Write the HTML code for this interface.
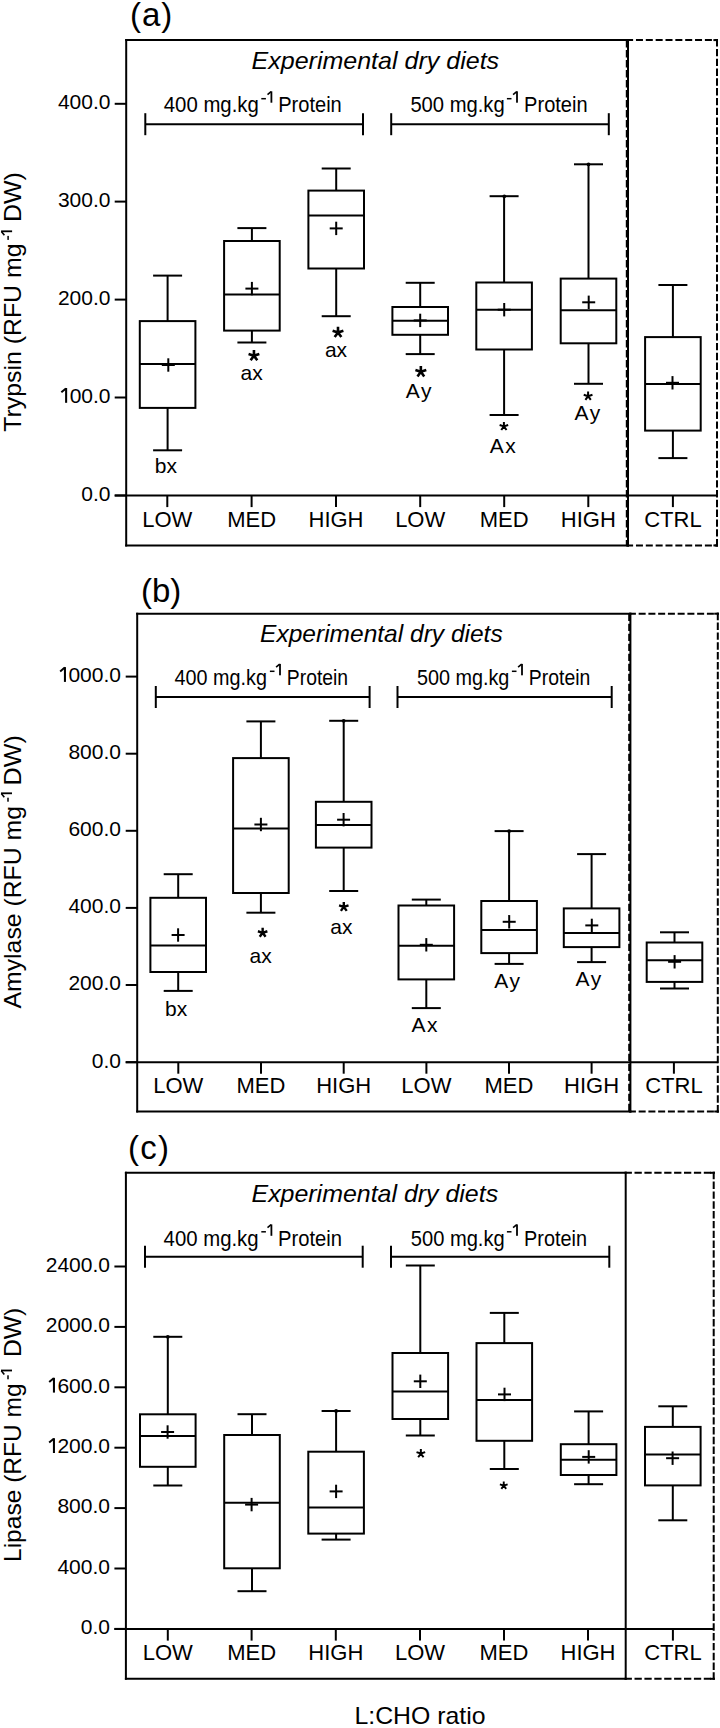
<!DOCTYPE html>
<html><head><meta charset="utf-8"><title>Digestive enzyme activity box plots</title>
<style>
html,body{margin:0;padding:0;background:#fff;}
body{width:720px;height:1728px;overflow:hidden;}
svg{display:block;}
text{font-family:"Liberation Sans",sans-serif;fill:#000;stroke:none;}
</style></head>
<body>
<svg width="720" height="1728" viewBox="0 0 720 1728">
<rect width="720" height="1728" fill="#fff"/>
<g stroke="#000" fill="none" stroke-linecap="butt">
<line x1="126.2" y1="39.1" x2="126.2" y2="546.4" stroke-width="2"/>
<line x1="125.2" y1="40.1" x2="629" y2="40.1" stroke-width="2"/>
<line x1="125.2" y1="545.4" x2="629" y2="545.4" stroke-width="2"/>
<line x1="628" y1="39.1" x2="628" y2="546.4" stroke-width="2"/>
<line x1="626.8" y1="40.1" x2="626.8" y2="545.4" stroke-width="2" stroke-dasharray="7.4 2.6"/>
<line x1="626.1" y1="40.1" x2="718" y2="40.1" stroke-width="2" stroke-dasharray="7 2.85"/>
<line x1="626.1" y1="545.4" x2="718" y2="545.4" stroke-width="2" stroke-dasharray="7 2.85"/>
<line x1="717" y1="39.1" x2="717" y2="546.4" stroke-width="2" stroke-dasharray="7.402 2.4"/>
<line x1="713.4" y1="40.1" x2="718" y2="40.1" stroke-width="2"/>
<line x1="713.4" y1="545.4" x2="718" y2="545.4" stroke-width="2"/>
<line x1="114.7" y1="495.6" x2="717" y2="495.6" stroke-width="2"/>
<line x1="114.7" y1="103.8" x2="126.2" y2="103.8" stroke-width="2"/>
<text x="110.5" y="109.1" font-size="21" text-anchor="end">400.0</text>
<line x1="114.7" y1="201.6" x2="126.2" y2="201.6" stroke-width="2"/>
<text x="110.5" y="206.9" font-size="21" text-anchor="end">300.0</text>
<line x1="114.7" y1="299.6" x2="126.2" y2="299.6" stroke-width="2"/>
<text x="110.5" y="304.90000000000003" font-size="21" text-anchor="end">200.0</text>
<line x1="114.7" y1="397.5" x2="126.2" y2="397.5" stroke-width="2"/>
<text x="110.5" y="402.8" font-size="21" text-anchor="end">00.0</text>
<g transform="translate(57.95,402.80)" fill="#000" stroke="none"><rect x="7.15" y="-14.8" width="2.05" height="14.8"/><path d="M8.0 -14.3L3.4 -10.5" stroke="#000" stroke-width="2" fill="none"/></g>
<line x1="114.7" y1="495.5" x2="126.2" y2="495.5" stroke-width="2"/>
<text x="110.5" y="500.8" font-size="21" text-anchor="end">0.0</text>
<line x1="167.3" y1="495.6" x2="167.3" y2="507.1" stroke-width="2"/>
<text x="167.3" y="527.3" font-size="22" text-anchor="middle">LOW</text>
<line x1="251.6" y1="495.6" x2="251.6" y2="507.1" stroke-width="2"/>
<text x="251.6" y="527.3" font-size="22" text-anchor="middle">MED</text>
<line x1="336" y1="495.6" x2="336" y2="507.1" stroke-width="2"/>
<text x="336" y="527.3" font-size="22" text-anchor="middle">HIGH</text>
<line x1="420.2" y1="495.6" x2="420.2" y2="507.1" stroke-width="2"/>
<text x="420.2" y="527.3" font-size="22" text-anchor="middle">LOW</text>
<line x1="504.2" y1="495.6" x2="504.2" y2="507.1" stroke-width="2"/>
<text x="504.2" y="527.3" font-size="22" text-anchor="middle">MED</text>
<line x1="588.3" y1="495.6" x2="588.3" y2="507.1" stroke-width="2"/>
<text x="588.3" y="527.3" font-size="22" text-anchor="middle">HIGH</text>
<line x1="672.9" y1="495.6" x2="672.9" y2="507.1" stroke-width="2"/>
<text x="672.9" y="527.3" font-size="22" text-anchor="middle">CTRL</text>
<text x="130" y="25.8" font-size="33" letter-spacing="0.9">(a)</text>
<text x="251.5" y="69" font-size="24" font-style="italic" textLength="247.60000000000002" lengthAdjust="spacingAndGlyphs">Experimental dry diets</text>
<line x1="145.3" y1="124.2" x2="363" y2="124.2" stroke-width="2"/>
<line x1="145.3" y1="113.2" x2="145.3" y2="135.2" stroke-width="2"/>
<line x1="363" y1="113.2" x2="363" y2="135.2" stroke-width="2"/>
<line x1="391.2" y1="124.2" x2="608.8" y2="124.2" stroke-width="2"/>
<line x1="391.2" y1="113.2" x2="391.2" y2="135.2" stroke-width="2"/>
<line x1="608.8" y1="113.2" x2="608.8" y2="135.2" stroke-width="2"/>
<text x="163.79999999999998" y="112.4" font-size="21.5" textLength="95.0" lengthAdjust="spacingAndGlyphs">400 mg.kg</text>
<g transform="translate(261.3,102.7)" fill="#000" stroke="none"><rect x="0" y="-4.75" width="4.6" height="1.5"/><rect x="9.20" y="-11.40" width="1.8" height="11.40"/><path d="M9.80 -11.10L6.20 -8.10" stroke="#000" stroke-width="1.6" fill="none"/></g>
<text x="278.2" y="112.4" font-size="21.5" textLength="63.60000000000002" lengthAdjust="spacingAndGlyphs">Protein</text>
<text x="410.40000000000003" y="112.4" font-size="21.5" textLength="94.3" lengthAdjust="spacingAndGlyphs">500 mg.kg</text>
<g transform="translate(506.9,102.7)" fill="#000" stroke="none"><rect x="0" y="-4.75" width="4.6" height="1.5"/><rect x="9.20" y="-11.40" width="1.8" height="11.40"/><path d="M9.80 -11.10L6.20 -8.10" stroke="#000" stroke-width="1.6" fill="none"/></g>
<text x="524.1" y="112.4" font-size="21.5" textLength="63.5" lengthAdjust="spacingAndGlyphs">Protein</text>
<text transform="translate(21,431.8) rotate(-90)" font-size="24" textLength="188.3" lengthAdjust="spacingAndGlyphs">Trypsin (RFU mg</text>
<g transform="translate(12.1,239.9) rotate(-90)" fill="#000" stroke="none"><rect x="0" y="-4.75" width="4.0" height="1.5"/><rect x="7.70" y="-11.00" width="1.8" height="11.00"/><path d="M8.30 -10.70L4.70 -7.70" stroke="#000" stroke-width="1.6" fill="none"/></g>
<text transform="translate(21,222.1) rotate(-90)" font-size="24" textLength="50.0" lengthAdjust="spacingAndGlyphs">DW)</text>
<line x1="167.6" y1="275.6" x2="167.6" y2="321.1" stroke-width="2"/>
<line x1="167.6" y1="407.9" x2="167.6" y2="450.3" stroke-width="2"/>
<line x1="153.1" y1="275.6" x2="182.1" y2="275.6" stroke-width="2"/>
<line x1="153.1" y1="450.3" x2="182.1" y2="450.3" stroke-width="2"/>
<rect x="139.79999999999998" y="321.1" width="55.6" height="86.79999999999995" fill="none" stroke-width="2"/>
<line x1="139.79999999999998" y1="363.9" x2="195.4" y2="363.9" stroke-width="2"/>
<line x1="161.8" y1="365" x2="174.8" y2="365" stroke-width="2"/>
<line x1="168.3" y1="358.3" x2="168.3" y2="371.7" stroke-width="2"/>
<line x1="251.9" y1="228.1" x2="251.9" y2="241.0" stroke-width="2"/>
<line x1="251.9" y1="330.6" x2="251.9" y2="342.5" stroke-width="2"/>
<line x1="237.4" y1="228.1" x2="266.4" y2="228.1" stroke-width="2"/>
<line x1="237.4" y1="342.5" x2="266.4" y2="342.5" stroke-width="2"/>
<rect x="224.1" y="241.0" width="55.6" height="89.60000000000002" fill="none" stroke-width="2"/>
<line x1="224.1" y1="294.4" x2="279.7" y2="294.4" stroke-width="2"/>
<line x1="245.4" y1="288.6" x2="258.4" y2="288.6" stroke-width="2"/>
<line x1="251.9" y1="281.90000000000003" x2="251.9" y2="295.3" stroke-width="2"/>
<line x1="336.2" y1="168.5" x2="336.2" y2="190.6" stroke-width="2"/>
<line x1="336.2" y1="268.5" x2="336.2" y2="316.2" stroke-width="2"/>
<line x1="321.7" y1="168.5" x2="350.7" y2="168.5" stroke-width="2"/>
<line x1="321.7" y1="316.2" x2="350.7" y2="316.2" stroke-width="2"/>
<rect x="308.4" y="190.6" width="55.6" height="77.9" fill="none" stroke-width="2"/>
<line x1="308.4" y1="215.6" x2="364.0" y2="215.6" stroke-width="2"/>
<line x1="329.7" y1="228.4" x2="342.7" y2="228.4" stroke-width="2"/>
<line x1="336.2" y1="221.70000000000002" x2="336.2" y2="235.1" stroke-width="2"/>
<line x1="420.2" y1="282.8" x2="420.2" y2="307.0" stroke-width="2"/>
<line x1="420.2" y1="334.8" x2="420.2" y2="354.1" stroke-width="2"/>
<line x1="405.7" y1="282.8" x2="434.7" y2="282.8" stroke-width="2"/>
<line x1="405.7" y1="354.1" x2="434.7" y2="354.1" stroke-width="2"/>
<rect x="392.4" y="307.0" width="55.6" height="27.80000000000001" fill="none" stroke-width="2"/>
<line x1="392.4" y1="320.8" x2="448.0" y2="320.8" stroke-width="2"/>
<line x1="413.7" y1="320.4" x2="426.7" y2="320.4" stroke-width="2"/>
<line x1="420.2" y1="313.7" x2="420.2" y2="327.09999999999997" stroke-width="2"/>
<line x1="504.1" y1="196.2" x2="504.1" y2="282.5" stroke-width="2"/>
<line x1="504.1" y1="349.5" x2="504.1" y2="415.0" stroke-width="2"/>
<line x1="489.6" y1="196.2" x2="518.6" y2="196.2" stroke-width="2"/>
<line x1="489.6" y1="415.0" x2="518.6" y2="415.0" stroke-width="2"/>
<rect x="476.3" y="282.5" width="55.6" height="67.0" fill="none" stroke-width="2"/>
<line x1="476.3" y1="309.7" x2="531.9" y2="309.7" stroke-width="2"/>
<line x1="497.7" y1="309.7" x2="510.7" y2="309.7" stroke-width="2"/>
<line x1="504.2" y1="303.0" x2="504.2" y2="316.4" stroke-width="2"/>
<line x1="588.5" y1="164.3" x2="588.5" y2="278.6" stroke-width="2"/>
<line x1="588.5" y1="343.3" x2="588.5" y2="383.8" stroke-width="2"/>
<line x1="574.0" y1="164.3" x2="603.0" y2="164.3" stroke-width="2"/>
<line x1="574.0" y1="383.8" x2="603.0" y2="383.8" stroke-width="2"/>
<rect x="560.7" y="278.6" width="55.6" height="64.69999999999999" fill="none" stroke-width="2"/>
<line x1="560.7" y1="310.2" x2="616.3" y2="310.2" stroke-width="2"/>
<line x1="582.2" y1="302.3" x2="595.2" y2="302.3" stroke-width="2"/>
<line x1="588.7" y1="295.6" x2="588.7" y2="309.0" stroke-width="2"/>
<line x1="672.9" y1="285.0" x2="672.9" y2="337.1" stroke-width="2"/>
<line x1="672.9" y1="430.6" x2="672.9" y2="458.1" stroke-width="2"/>
<line x1="658.4" y1="285.0" x2="687.4" y2="285.0" stroke-width="2"/>
<line x1="658.4" y1="458.1" x2="687.4" y2="458.1" stroke-width="2"/>
<rect x="645.1" y="337.1" width="55.6" height="93.5" fill="none" stroke-width="2"/>
<line x1="645.1" y1="384.0" x2="700.6999999999999" y2="384.0" stroke-width="2"/>
<line x1="666.0" y1="382.8" x2="679.0" y2="382.8" stroke-width="2"/>
<line x1="672.5" y1="376.1" x2="672.5" y2="389.5" stroke-width="2"/>
<path d="M253.95 355.66L253.95 350.00M253.95 355.66L259.34 353.91M253.95 355.66L257.28 360.25M253.95 355.66L250.62 360.25M253.95 355.66L248.56 353.91" stroke-width="2.6"/>
<path d="M338.00 332.46L338.00 326.80M338.00 332.46L343.39 330.71M338.00 332.46L341.33 337.05M338.00 332.46L334.67 337.05M338.00 332.46L332.61 330.71" stroke-width="2.6"/>
<path d="M420.85 371.82L420.85 366.10M420.85 371.82L426.29 370.05M420.85 371.82L424.21 376.45M420.85 371.82L417.49 376.45M420.85 371.82L415.41 370.05" stroke-width="2.6"/>
<path d="M503.90 426.39L503.90 421.90M503.90 426.39L508.17 425.00M503.90 426.39L506.54 430.02M503.90 426.39L501.26 430.02M503.90 426.39L499.63 425.00" stroke-width="2.0"/>
<path d="M588.10 396.20L588.10 391.60M588.10 396.20L592.47 394.78M588.10 396.20L590.80 399.92M588.10 396.20L585.40 399.92M588.10 396.20L583.73 394.78" stroke-width="2.0"/>
<circle cx="504.3" cy="196.3" r="1.9" fill="#000" stroke="none"/>
<circle cx="588.5" cy="164.3" r="1.9" fill="#000" stroke="none"/>
<text x="165.8" y="472.5" font-size="21" text-anchor="middle">bx</text>
<text x="251.7" y="380.3" font-size="21" text-anchor="middle">ax</text>
<text x="336" y="357.1" font-size="21" text-anchor="middle">ax</text>
<text x="419.40000000000003" y="398.3" font-size="21" text-anchor="middle" letter-spacing="1.6">Ay</text>
<text x="503.5" y="452.9" font-size="21" text-anchor="middle" letter-spacing="1.6">Ax</text>
<text x="588.0999999999999" y="420" font-size="21" text-anchor="middle" letter-spacing="1.6">Ay</text>
<line x1="137.2" y1="612.7" x2="137.2" y2="1112.5" stroke-width="2"/>
<line x1="136.2" y1="613.7" x2="631.4" y2="613.7" stroke-width="2"/>
<line x1="136.2" y1="1111.5" x2="631.4" y2="1111.5" stroke-width="2"/>
<line x1="630.4" y1="612.7" x2="630.4" y2="1112.5" stroke-width="2"/>
<line x1="629.1999999999999" y1="613.7" x2="629.1999999999999" y2="1111.5" stroke-width="2" stroke-dasharray="7.4 2.6"/>
<line x1="628.9" y1="613.7" x2="718.8" y2="613.7" stroke-width="2" stroke-dasharray="7 2.75"/>
<line x1="628.9" y1="1111.5" x2="718.8" y2="1111.5" stroke-width="2" stroke-dasharray="7 2.75"/>
<line x1="717.8" y1="612.7" x2="717.8" y2="1112.5" stroke-width="2" stroke-dasharray="7.447 2.4"/>
<line x1="714.1999999999999" y1="613.7" x2="718.8" y2="613.7" stroke-width="2"/>
<line x1="714.1999999999999" y1="1111.5" x2="718.8" y2="1111.5" stroke-width="2"/>
<line x1="125.69999999999999" y1="1062.2" x2="717.8" y2="1062.2" stroke-width="2"/>
<line x1="125.69999999999999" y1="676.6" x2="137.2" y2="676.6" stroke-width="2"/>
<text x="121" y="681.9" font-size="21" text-anchor="end">000.0</text>
<g transform="translate(56.77,681.90)" fill="#000" stroke="none"><rect x="7.15" y="-14.8" width="2.05" height="14.8"/><path d="M8.0 -14.3L3.4 -10.5" stroke="#000" stroke-width="2" fill="none"/></g>
<line x1="125.69999999999999" y1="753.7" x2="137.2" y2="753.7" stroke-width="2"/>
<text x="121" y="759.0" font-size="21" text-anchor="end">800.0</text>
<line x1="125.69999999999999" y1="830.8" x2="137.2" y2="830.8" stroke-width="2"/>
<text x="121" y="836.0999999999999" font-size="21" text-anchor="end">600.0</text>
<line x1="125.69999999999999" y1="907.9" x2="137.2" y2="907.9" stroke-width="2"/>
<text x="121" y="913.1999999999999" font-size="21" text-anchor="end">400.0</text>
<line x1="125.69999999999999" y1="985.0" x2="137.2" y2="985.0" stroke-width="2"/>
<text x="121" y="990.3" font-size="21" text-anchor="end">200.0</text>
<line x1="125.69999999999999" y1="1062.2" x2="137.2" y2="1062.2" stroke-width="2"/>
<text x="121" y="1067.5" font-size="21" text-anchor="end">0.0</text>
<line x1="178.3" y1="1062.2" x2="178.3" y2="1073.7" stroke-width="2"/>
<text x="178.3" y="1092.6" font-size="22" text-anchor="middle">LOW</text>
<line x1="261.0" y1="1062.2" x2="261.0" y2="1073.7" stroke-width="2"/>
<text x="261.0" y="1092.6" font-size="22" text-anchor="middle">MED</text>
<line x1="343.7" y1="1062.2" x2="343.7" y2="1073.7" stroke-width="2"/>
<text x="343.7" y="1092.6" font-size="22" text-anchor="middle">HIGH</text>
<line x1="426.4" y1="1062.2" x2="426.4" y2="1073.7" stroke-width="2"/>
<text x="426.4" y="1092.6" font-size="22" text-anchor="middle">LOW</text>
<line x1="509.0" y1="1062.2" x2="509.0" y2="1073.7" stroke-width="2"/>
<text x="509.0" y="1092.6" font-size="22" text-anchor="middle">MED</text>
<line x1="591.6" y1="1062.2" x2="591.6" y2="1073.7" stroke-width="2"/>
<text x="591.6" y="1092.6" font-size="22" text-anchor="middle">HIGH</text>
<line x1="673.9" y1="1062.2" x2="673.9" y2="1073.7" stroke-width="2"/>
<text x="673.9" y="1092.6" font-size="22" text-anchor="middle">CTRL</text>
<text x="141" y="601.7" font-size="33">(b)</text>
<text x="260.1" y="642.1" font-size="24" font-style="italic" textLength="242.59999999999997" lengthAdjust="spacingAndGlyphs">Experimental dry diets</text>
<line x1="155.8" y1="697" x2="369.6" y2="697" stroke-width="2"/>
<line x1="155.8" y1="686" x2="155.8" y2="708" stroke-width="2"/>
<line x1="369.6" y1="686" x2="369.6" y2="708" stroke-width="2"/>
<line x1="397.5" y1="697" x2="611.7" y2="697" stroke-width="2"/>
<line x1="397.5" y1="686" x2="397.5" y2="708" stroke-width="2"/>
<line x1="611.7" y1="686" x2="611.7" y2="708" stroke-width="2"/>
<text x="174.6" y="685" font-size="21.5" textLength="92.3" lengthAdjust="spacingAndGlyphs">400 mg.kg</text>
<g transform="translate(269.9,675.3)" fill="#000" stroke="none"><rect x="0" y="-4.75" width="4.6" height="1.5"/><rect x="9.20" y="-11.40" width="1.8" height="11.40"/><path d="M9.80 -11.10L6.20 -8.10" stroke="#000" stroke-width="1.6" fill="none"/></g>
<text x="286.8" y="685" font-size="21.5" textLength="61.30000000000001" lengthAdjust="spacingAndGlyphs">Protein</text>
<text x="416.90000000000003" y="685" font-size="21.5" textLength="92.5" lengthAdjust="spacingAndGlyphs">500 mg.kg</text>
<g transform="translate(511.9,675.3)" fill="#000" stroke="none"><rect x="0" y="-4.75" width="4.6" height="1.5"/><rect x="9.20" y="-11.40" width="1.8" height="11.40"/><path d="M9.80 -11.10L6.20 -8.10" stroke="#000" stroke-width="1.6" fill="none"/></g>
<text x="528.8" y="685" font-size="21.5" textLength="61.5" lengthAdjust="spacingAndGlyphs">Protein</text>
<text transform="translate(20.6,1008.5) rotate(-90)" font-size="24" textLength="202.5" lengthAdjust="spacingAndGlyphs">Amylase (RFU mg</text>
<g transform="translate(12,801.7) rotate(-90)" fill="#000" stroke="none"><rect x="0" y="-4.75" width="4.0" height="1.5"/><rect x="7.50" y="-11.00" width="1.8" height="11.00"/><path d="M8.10 -10.70L4.50 -7.70" stroke="#000" stroke-width="1.6" fill="none"/></g>
<text transform="translate(20.6,785.4) rotate(-90)" font-size="24" textLength="50.19999999999993" lengthAdjust="spacingAndGlyphs">DW)</text>
<line x1="178.2" y1="874.2" x2="178.2" y2="897.8" stroke-width="2"/>
<line x1="178.2" y1="972.0" x2="178.2" y2="990.9" stroke-width="2"/>
<line x1="163.7" y1="874.2" x2="192.7" y2="874.2" stroke-width="2"/>
<line x1="163.7" y1="990.9" x2="192.7" y2="990.9" stroke-width="2"/>
<rect x="150.39999999999998" y="897.8" width="55.6" height="74.20000000000005" fill="none" stroke-width="2"/>
<line x1="150.39999999999998" y1="945.6" x2="206.0" y2="945.6" stroke-width="2"/>
<line x1="171.6" y1="935.0" x2="184.6" y2="935.0" stroke-width="2"/>
<line x1="178.1" y1="928.3" x2="178.1" y2="941.7" stroke-width="2"/>
<line x1="260.9" y1="721.4" x2="260.9" y2="758.1" stroke-width="2"/>
<line x1="260.9" y1="893.0" x2="260.9" y2="912.7" stroke-width="2"/>
<line x1="246.39999999999998" y1="721.4" x2="275.4" y2="721.4" stroke-width="2"/>
<line x1="246.39999999999998" y1="912.7" x2="275.4" y2="912.7" stroke-width="2"/>
<rect x="233.09999999999997" y="758.1" width="55.6" height="134.89999999999998" fill="none" stroke-width="2"/>
<line x1="233.09999999999997" y1="828.4" x2="288.7" y2="828.4" stroke-width="2"/>
<line x1="254.39999999999998" y1="824.5" x2="267.4" y2="824.5" stroke-width="2"/>
<line x1="260.9" y1="817.8" x2="260.9" y2="831.2" stroke-width="2"/>
<line x1="343.7" y1="720.8" x2="343.7" y2="801.8" stroke-width="2"/>
<line x1="343.7" y1="847.6" x2="343.7" y2="891.0" stroke-width="2"/>
<line x1="329.2" y1="720.8" x2="358.2" y2="720.8" stroke-width="2"/>
<line x1="329.2" y1="891.0" x2="358.2" y2="891.0" stroke-width="2"/>
<rect x="315.9" y="801.8" width="55.6" height="45.80000000000007" fill="none" stroke-width="2"/>
<line x1="315.9" y1="824.9" x2="371.5" y2="824.9" stroke-width="2"/>
<line x1="337.1" y1="819.7" x2="350.1" y2="819.7" stroke-width="2"/>
<line x1="343.6" y1="813.0" x2="343.6" y2="826.4000000000001" stroke-width="2"/>
<line x1="426.3" y1="899.6" x2="426.3" y2="905.5" stroke-width="2"/>
<line x1="426.3" y1="979.4" x2="426.3" y2="1008.1" stroke-width="2"/>
<line x1="411.8" y1="899.6" x2="440.8" y2="899.6" stroke-width="2"/>
<line x1="411.8" y1="1008.1" x2="440.8" y2="1008.1" stroke-width="2"/>
<rect x="398.5" y="905.5" width="55.6" height="73.89999999999998" fill="none" stroke-width="2"/>
<line x1="398.5" y1="945.8" x2="454.1" y2="945.8" stroke-width="2"/>
<line x1="419.8" y1="944.8" x2="432.8" y2="944.8" stroke-width="2"/>
<line x1="426.3" y1="938.0999999999999" x2="426.3" y2="951.5" stroke-width="2"/>
<line x1="509.1" y1="831.1" x2="509.1" y2="901.0" stroke-width="2"/>
<line x1="509.1" y1="953.1" x2="509.1" y2="963.9" stroke-width="2"/>
<line x1="494.6" y1="831.1" x2="523.6" y2="831.1" stroke-width="2"/>
<line x1="494.6" y1="963.9" x2="523.6" y2="963.9" stroke-width="2"/>
<rect x="481.3" y="901.0" width="55.6" height="52.10000000000002" fill="none" stroke-width="2"/>
<line x1="481.3" y1="930.1" x2="536.9" y2="930.1" stroke-width="2"/>
<line x1="502.7" y1="921.8" x2="515.7" y2="921.8" stroke-width="2"/>
<line x1="509.2" y1="915.0999999999999" x2="509.2" y2="928.5" stroke-width="2"/>
<line x1="591.6" y1="854.1" x2="591.6" y2="908.4" stroke-width="2"/>
<line x1="591.6" y1="947.1" x2="591.6" y2="962.1" stroke-width="2"/>
<line x1="577.1" y1="854.1" x2="606.1" y2="854.1" stroke-width="2"/>
<line x1="577.1" y1="962.1" x2="606.1" y2="962.1" stroke-width="2"/>
<rect x="563.8000000000001" y="908.4" width="55.6" height="38.700000000000045" fill="none" stroke-width="2"/>
<line x1="563.8000000000001" y1="932.9" x2="619.4" y2="932.9" stroke-width="2"/>
<line x1="585.3" y1="925.4" x2="598.3" y2="925.4" stroke-width="2"/>
<line x1="591.8" y1="918.6999999999999" x2="591.8" y2="932.1" stroke-width="2"/>
<line x1="674.5" y1="932.3" x2="674.5" y2="942.5" stroke-width="2"/>
<line x1="674.5" y1="981.9" x2="674.5" y2="988.5" stroke-width="2"/>
<line x1="660.0" y1="932.3" x2="689.0" y2="932.3" stroke-width="2"/>
<line x1="660.0" y1="988.5" x2="689.0" y2="988.5" stroke-width="2"/>
<rect x="646.7" y="942.5" width="55.6" height="39.39999999999998" fill="none" stroke-width="2"/>
<line x1="646.7" y1="960.3" x2="702.3" y2="960.3" stroke-width="2"/>
<line x1="668.1" y1="961.8" x2="681.1" y2="961.8" stroke-width="2"/>
<line x1="674.6" y1="955.0999999999999" x2="674.6" y2="968.5" stroke-width="2"/>
<path d="M262.65 932.78L262.65 927.80M262.65 932.78L267.38 931.24M262.65 932.78L265.58 936.80M262.65 932.78L259.72 936.80M262.65 932.78L257.92 931.24" stroke-width="2.4"/>
<path d="M343.80 906.88L343.80 901.90M343.80 906.88L348.53 905.34M343.80 906.88L346.73 910.90M343.80 906.88L340.87 910.90M343.80 906.88L339.07 905.34" stroke-width="2.4"/>
<circle cx="343.7" cy="720.8" r="1.9" fill="#000" stroke="none"/>
<circle cx="509.1" cy="831.1" r="1.9" fill="#000" stroke="none"/>
<text x="176.2" y="1016.1" font-size="21" text-anchor="middle">bx</text>
<text x="260.6" y="962.6" font-size="21" text-anchor="middle">ax</text>
<text x="341.3" y="933.7" font-size="21" text-anchor="middle">ax</text>
<text x="425.3" y="1032" font-size="21" text-anchor="middle" letter-spacing="1.6">Ax</text>
<text x="508.0" y="987.8" font-size="21" text-anchor="middle" letter-spacing="1.6">Ay</text>
<text x="589.1999999999999" y="985.6" font-size="21" text-anchor="middle" letter-spacing="1.6">Ay</text>
<line x1="125.9" y1="1171.8" x2="125.9" y2="1679.8" stroke-width="2"/>
<line x1="124.9" y1="1172.8" x2="626.7" y2="1172.8" stroke-width="2"/>
<line x1="124.9" y1="1678.8" x2="626.7" y2="1678.8" stroke-width="2"/>
<line x1="625.7" y1="1171.8" x2="625.7" y2="1679.8" stroke-width="2"/>
<line x1="624.6" y1="1172.8" x2="714.7" y2="1172.8" stroke-width="2" stroke-dasharray="7.3 2.6"/>
<line x1="624.6" y1="1678.8" x2="714.7" y2="1678.8" stroke-width="2" stroke-dasharray="7.3 2.6"/>
<line x1="713.7" y1="1171.8" x2="713.7" y2="1679.8" stroke-width="2" stroke-dasharray="7.415 2.4"/>
<line x1="710.1" y1="1172.8" x2="714.7" y2="1172.8" stroke-width="2"/>
<line x1="710.1" y1="1678.8" x2="714.7" y2="1678.8" stroke-width="2"/>
<line x1="114.4" y1="1629.1" x2="713.7" y2="1629.1" stroke-width="2"/>
<line x1="114.4" y1="1266.5" x2="125.9" y2="1266.5" stroke-width="2"/>
<text x="110" y="1271.8" font-size="21" text-anchor="end">2400.0</text>
<line x1="114.4" y1="1326.9" x2="125.9" y2="1326.9" stroke-width="2"/>
<text x="110" y="1332.2" font-size="21" text-anchor="end">2000.0</text>
<line x1="114.4" y1="1387.3" x2="125.9" y2="1387.3" stroke-width="2"/>
<text x="110" y="1392.6" font-size="21" text-anchor="end">600.0</text>
<g transform="translate(45.77,1392.60)" fill="#000" stroke="none"><rect x="7.15" y="-14.8" width="2.05" height="14.8"/><path d="M8.0 -14.3L3.4 -10.5" stroke="#000" stroke-width="2" fill="none"/></g>
<line x1="114.4" y1="1447.7" x2="125.9" y2="1447.7" stroke-width="2"/>
<text x="110" y="1453.0" font-size="21" text-anchor="end">200.0</text>
<g transform="translate(45.77,1453.00)" fill="#000" stroke="none"><rect x="7.15" y="-14.8" width="2.05" height="14.8"/><path d="M8.0 -14.3L3.4 -10.5" stroke="#000" stroke-width="2" fill="none"/></g>
<line x1="114.4" y1="1508.1" x2="125.9" y2="1508.1" stroke-width="2"/>
<text x="110" y="1513.3999999999999" font-size="21" text-anchor="end">800.0</text>
<line x1="114.4" y1="1568.5" x2="125.9" y2="1568.5" stroke-width="2"/>
<text x="110" y="1573.8" font-size="21" text-anchor="end">400.0</text>
<line x1="114.4" y1="1628.9" x2="125.9" y2="1628.9" stroke-width="2"/>
<text x="110" y="1634.2" font-size="21" text-anchor="end">0.0</text>
<line x1="167.8" y1="1629.1" x2="167.8" y2="1640.6" stroke-width="2"/>
<text x="167.8" y="1659.8" font-size="22" text-anchor="middle">LOW</text>
<line x1="251.6" y1="1629.1" x2="251.6" y2="1640.6" stroke-width="2"/>
<text x="251.6" y="1659.8" font-size="22" text-anchor="middle">MED</text>
<line x1="335.8" y1="1629.1" x2="335.8" y2="1640.6" stroke-width="2"/>
<text x="335.8" y="1659.8" font-size="22" text-anchor="middle">HIGH</text>
<line x1="420.0" y1="1629.1" x2="420.0" y2="1640.6" stroke-width="2"/>
<text x="420.0" y="1659.8" font-size="22" text-anchor="middle">LOW</text>
<line x1="504.0" y1="1629.1" x2="504.0" y2="1640.6" stroke-width="2"/>
<text x="504.0" y="1659.8" font-size="22" text-anchor="middle">MED</text>
<line x1="588.0" y1="1629.1" x2="588.0" y2="1640.6" stroke-width="2"/>
<text x="588.0" y="1659.8" font-size="22" text-anchor="middle">HIGH</text>
<line x1="672.9" y1="1629.1" x2="672.9" y2="1640.6" stroke-width="2"/>
<text x="672.9" y="1659.8" font-size="22" text-anchor="middle">CTRL</text>
<text x="128" y="1158.5" font-size="33" letter-spacing="1.2">(c)</text>
<text x="251.5" y="1201.6" font-size="24" font-style="italic" textLength="246.60000000000002" lengthAdjust="spacingAndGlyphs">Experimental dry diets</text>
<line x1="145" y1="1256.7" x2="362.7" y2="1256.7" stroke-width="2"/>
<line x1="145" y1="1245.7" x2="145" y2="1267.7" stroke-width="2"/>
<line x1="362.7" y1="1245.7" x2="362.7" y2="1267.7" stroke-width="2"/>
<line x1="391" y1="1256.7" x2="609.3" y2="1256.7" stroke-width="2"/>
<line x1="391" y1="1245.7" x2="391" y2="1267.7" stroke-width="2"/>
<line x1="609.3" y1="1245.7" x2="609.3" y2="1267.7" stroke-width="2"/>
<text x="163.6" y="1245.5" font-size="21.5" textLength="95.0" lengthAdjust="spacingAndGlyphs">400 mg.kg</text>
<g transform="translate(261.3,1235.8)" fill="#000" stroke="none"><rect x="0" y="-4.75" width="4.6" height="1.5"/><rect x="9.20" y="-11.40" width="1.8" height="11.40"/><path d="M9.80 -11.10L6.20 -8.10" stroke="#000" stroke-width="1.6" fill="none"/></g>
<text x="278.0" y="1245.5" font-size="21.5" textLength="64.0" lengthAdjust="spacingAndGlyphs">Protein</text>
<text x="410.8" y="1245.5" font-size="21.5" textLength="93.9" lengthAdjust="spacingAndGlyphs">500 mg.kg</text>
<g transform="translate(506.9,1235.8)" fill="#000" stroke="none"><rect x="0" y="-4.75" width="4.6" height="1.5"/><rect x="9.20" y="-11.40" width="1.8" height="11.40"/><path d="M9.80 -11.10L6.20 -8.10" stroke="#000" stroke-width="1.6" fill="none"/></g>
<text x="524.1" y="1245.5" font-size="21.5" textLength="62.89999999999998" lengthAdjust="spacingAndGlyphs">Protein</text>
<text transform="translate(21.4,1562) rotate(-90)" font-size="24" textLength="178.70000000000005" lengthAdjust="spacingAndGlyphs">Lipase (RFU mg</text>
<g transform="translate(12,1379.3) rotate(-90)" fill="#000" stroke="none"><rect x="0" y="-4.75" width="4.0" height="1.5"/><rect x="7.90" y="-11.00" width="1.8" height="11.00"/><path d="M8.50 -10.70L4.90 -7.70" stroke="#000" stroke-width="1.6" fill="none"/></g>
<text transform="translate(21.4,1357.1) rotate(-90)" font-size="24" textLength="49.399999999999864" lengthAdjust="spacingAndGlyphs">DW)</text>
<line x1="167.8" y1="1336.8" x2="167.8" y2="1414.3" stroke-width="2"/>
<line x1="167.8" y1="1466.8" x2="167.8" y2="1485.5" stroke-width="2"/>
<line x1="153.3" y1="1336.8" x2="182.3" y2="1336.8" stroke-width="2"/>
<line x1="153.3" y1="1485.5" x2="182.3" y2="1485.5" stroke-width="2"/>
<rect x="140.0" y="1414.3" width="55.6" height="52.5" fill="none" stroke-width="2"/>
<line x1="140.0" y1="1436.1" x2="195.60000000000002" y2="1436.1" stroke-width="2"/>
<line x1="161.1" y1="1432.0" x2="174.1" y2="1432.0" stroke-width="2"/>
<line x1="167.6" y1="1425.3" x2="167.6" y2="1438.7" stroke-width="2"/>
<line x1="252.0" y1="1414.2" x2="252.0" y2="1435.0" stroke-width="2"/>
<line x1="252.0" y1="1568.3" x2="252.0" y2="1591.2" stroke-width="2"/>
<line x1="237.5" y1="1414.2" x2="266.5" y2="1414.2" stroke-width="2"/>
<line x1="237.5" y1="1591.2" x2="266.5" y2="1591.2" stroke-width="2"/>
<rect x="224.2" y="1435.0" width="55.6" height="133.29999999999995" fill="none" stroke-width="2"/>
<line x1="224.2" y1="1502.8" x2="279.8" y2="1502.8" stroke-width="2"/>
<line x1="245.1" y1="1504.6" x2="258.1" y2="1504.6" stroke-width="2"/>
<line x1="251.6" y1="1497.8999999999999" x2="251.6" y2="1511.3" stroke-width="2"/>
<line x1="336.1" y1="1411.0" x2="336.1" y2="1451.7" stroke-width="2"/>
<line x1="336.1" y1="1533.6" x2="336.1" y2="1539.6" stroke-width="2"/>
<line x1="321.6" y1="1411.0" x2="350.6" y2="1411.0" stroke-width="2"/>
<line x1="321.6" y1="1539.6" x2="350.6" y2="1539.6" stroke-width="2"/>
<rect x="308.3" y="1451.7" width="55.6" height="81.89999999999986" fill="none" stroke-width="2"/>
<line x1="308.3" y1="1507.5" x2="363.90000000000003" y2="1507.5" stroke-width="2"/>
<line x1="329.6" y1="1491.4" x2="342.6" y2="1491.4" stroke-width="2"/>
<line x1="336.1" y1="1484.7" x2="336.1" y2="1498.1000000000001" stroke-width="2"/>
<line x1="420.3" y1="1265.5" x2="420.3" y2="1353.0" stroke-width="2"/>
<line x1="420.3" y1="1419.0" x2="420.3" y2="1435.5" stroke-width="2"/>
<line x1="405.8" y1="1265.5" x2="434.8" y2="1265.5" stroke-width="2"/>
<line x1="405.8" y1="1435.5" x2="434.8" y2="1435.5" stroke-width="2"/>
<rect x="392.5" y="1353.0" width="55.6" height="66.0" fill="none" stroke-width="2"/>
<line x1="392.5" y1="1391.5" x2="448.1" y2="1391.5" stroke-width="2"/>
<line x1="413.8" y1="1381.3" x2="426.8" y2="1381.3" stroke-width="2"/>
<line x1="420.3" y1="1374.6" x2="420.3" y2="1388.0" stroke-width="2"/>
<line x1="504.3" y1="1312.9" x2="504.3" y2="1343.1" stroke-width="2"/>
<line x1="504.3" y1="1440.8" x2="504.3" y2="1469.0" stroke-width="2"/>
<line x1="489.8" y1="1312.9" x2="518.8" y2="1312.9" stroke-width="2"/>
<line x1="489.8" y1="1469.0" x2="518.8" y2="1469.0" stroke-width="2"/>
<rect x="476.5" y="1343.1" width="55.6" height="97.70000000000005" fill="none" stroke-width="2"/>
<line x1="476.5" y1="1400.0" x2="532.1" y2="1400.0" stroke-width="2"/>
<line x1="498.0" y1="1394.4" x2="511.0" y2="1394.4" stroke-width="2"/>
<line x1="504.5" y1="1387.7" x2="504.5" y2="1401.1000000000001" stroke-width="2"/>
<line x1="588.6" y1="1411.4" x2="588.6" y2="1444.2" stroke-width="2"/>
<line x1="588.6" y1="1475.0" x2="588.6" y2="1484.2" stroke-width="2"/>
<line x1="574.1" y1="1411.4" x2="603.1" y2="1411.4" stroke-width="2"/>
<line x1="574.1" y1="1484.2" x2="603.1" y2="1484.2" stroke-width="2"/>
<rect x="560.8000000000001" y="1444.2" width="55.6" height="30.799999999999955" fill="none" stroke-width="2"/>
<line x1="560.8000000000001" y1="1459.7" x2="616.4" y2="1459.7" stroke-width="2"/>
<line x1="582.2" y1="1456.9" x2="595.2" y2="1456.9" stroke-width="2"/>
<line x1="588.7" y1="1450.2" x2="588.7" y2="1463.6000000000001" stroke-width="2"/>
<line x1="672.8" y1="1406.3" x2="672.8" y2="1426.9" stroke-width="2"/>
<line x1="672.8" y1="1485.4" x2="672.8" y2="1520.3" stroke-width="2"/>
<line x1="658.3" y1="1406.3" x2="687.3" y2="1406.3" stroke-width="2"/>
<line x1="658.3" y1="1520.3" x2="687.3" y2="1520.3" stroke-width="2"/>
<rect x="645.0" y="1426.9" width="55.6" height="58.5" fill="none" stroke-width="2"/>
<line x1="645.0" y1="1454.4" x2="700.5999999999999" y2="1454.4" stroke-width="2"/>
<line x1="666.1" y1="1458.2" x2="679.1" y2="1458.2" stroke-width="2"/>
<line x1="672.6" y1="1451.5" x2="672.6" y2="1464.9" stroke-width="2"/>
<path d="M420.85 1453.54L420.85 1449.00M420.85 1453.54L425.17 1452.14M420.85 1453.54L423.52 1457.22M420.85 1453.54L418.18 1457.22M420.85 1453.54L416.53 1452.14" stroke-width="2.0"/>
<path d="M503.75 1485.56L503.75 1481.50M503.75 1485.56L507.61 1484.31M503.75 1485.56L506.14 1488.85M503.75 1485.56L501.36 1488.85M503.75 1485.56L499.89 1484.31" stroke-width="1.9"/>
<circle cx="167.8" cy="1336.8" r="1.9" fill="#000" stroke="none"/>
<circle cx="336.1" cy="1411.0" r="1.9" fill="#000" stroke="none"/>
<text x="354.5" y="1723.8" font-size="24" textLength="131" lengthAdjust="spacingAndGlyphs">L:CHO ratio</text>
</g>
</svg>
</body></html>
